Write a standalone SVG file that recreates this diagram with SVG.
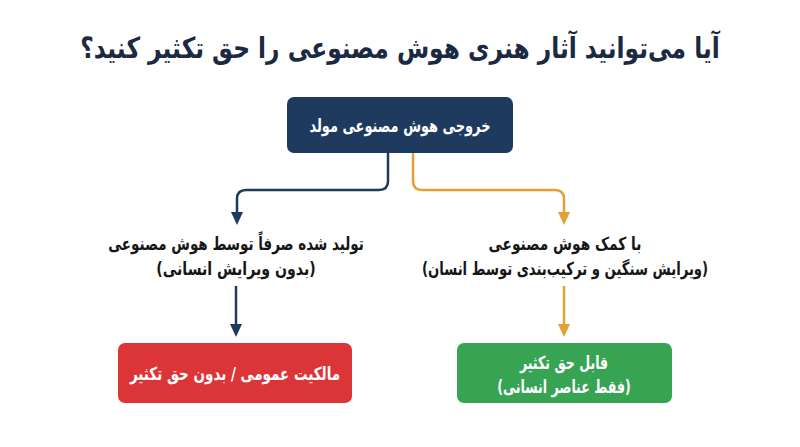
<svg xmlns="http://www.w3.org/2000/svg" width="800" height="447" viewBox="0 0 800 447">
<defs>
<style>
text{font-family:"DejaVu Sans","Noto Sans",sans-serif;font-weight:bold;text-anchor:middle;direction:rtl}
.title{font-size:29px;fill:#1b2942}
.w{fill:#ffffff;font-size:18px}
.lbl{fill:#161616;font-size:18px}
.navy{stroke:#1e3a5f;stroke-width:2.5;fill:none}
.orange{stroke:#e3a035;stroke-width:2.5;fill:none}
</style>
</defs>
<rect width="800" height="447" fill="#ffffff"/>
<text class="title" transform="translate(400 58) scale(0.805 1)">آیا می‌توانید آثار هنری هوش مصنوعی را حق تکثیر کنید؟</text>
<g id="connectors">
<path class="navy" d="M388 153 V181 Q388 190 379 190 H246 Q237 190 237 199 V214"/>
<path class="orange" d="M413 153 V181 Q413 190 422 190 H555 Q564 190 564 199 V214"/>
<path d="M231 212 L243 212 L237 225 Z" fill="#1e3a5f"/>
<path d="M558 212 L570 212 L564 225 Z" fill="#e3a035"/>
<path class="navy" d="M236 286 V326"/>
<path d="M230 324 L242 324 L236 337 Z" fill="#1e3a5f"/>
<path class="orange" d="M564 286 V326"/>
<path d="M558 324 L570 324 L564 337 Z" fill="#e3a035"/>
</g>
<g id="node-source">
<rect x="287" y="97" width="226" height="56" rx="7" fill="#1e3a5f"/>
<text class="w" transform="translate(400 132) scale(0.72 1)">خروجی هوش مصنوعی مولد</text>
</g>
<g id="node-ai-only">
<text class="lbl" transform="translate(236 250) scale(0.75 1)">تولید شده صرفاً توسط هوش مصنوعی</text>
<text class="lbl" transform="translate(236 275) scale(0.785 1)">(بدون ویرایش انسانی)</text>
</g>
<g id="node-ai-assisted">
<text class="lbl" transform="translate(565 250) scale(0.765 1)">با کمک هوش مصنوعی</text>
<text class="lbl" transform="translate(565 275) scale(0.735 1)">(ویرایش سنگین و ترکیب‌بندی توسط انسان)</text>
</g>
<g id="node-public">
<rect x="118" y="343" width="234" height="60" rx="7" fill="#dc3538"/>
<text class="w" transform="translate(235 380) scale(0.75 1)">مالکیت عمومی / بدون حق تکثیر</text>
</g>
<g id="node-copyright">
<rect x="457" y="343" width="215" height="60" rx="7" fill="#37a454"/>
<text class="w" transform="translate(564 369) scale(0.7 1)">قابل حق تکثیر</text>
<text class="w" transform="translate(564 393) scale(0.7 1)">(فقط عناصر انسانی)</text>
</g>
</svg>
